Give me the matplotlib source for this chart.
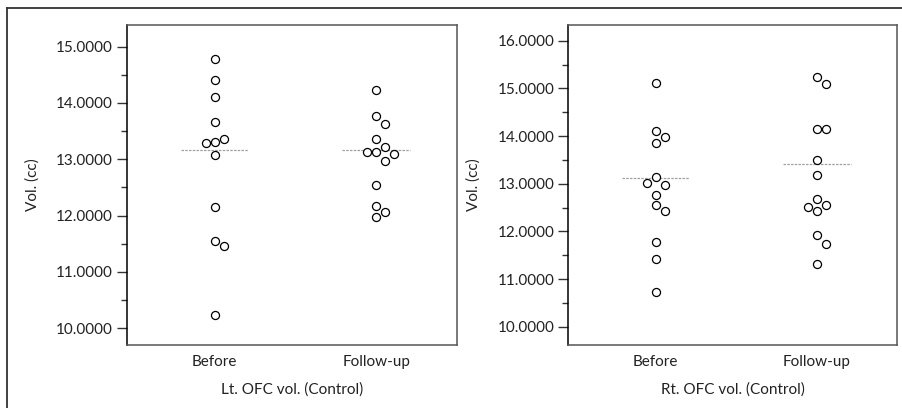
import numpy as np
import matplotlib
matplotlib.use("Agg")
import matplotlib.pyplot as plt
from matplotlib.lines import Line2D
from matplotlib.ticker import FormatStrFormatter, MultipleLocator

plt.rcParams['font.family'] = ['Lato', 'DejaVu Sans']

# ---- data ----
categories = ["Before", "Follow-up"]

lt_before = [14.78, 14.40, 14.11, 13.67, 13.31, 13.36, 13.28, 13.08, 12.16, 11.55, 11.46, 10.23]
lt_follow = [14.23, 13.76, 13.62, 13.36, 13.21, 13.12, 13.13, 13.09, 12.97, 12.54, 12.17, 12.07, 11.98]
lt_ref = [13.17, 13.17]

rt_before = [15.12, 14.11, 13.97, 13.86, 13.15, 12.97, 13.01, 12.77, 12.55, 12.43, 11.78, 11.43, 10.73]
rt_follow = [15.23, 15.09, 14.15, 14.15, 13.50, 13.18, 12.67, 12.56, 12.52, 12.43, 11.92, 11.74, 11.32]
rt_ref = [13.13, 13.41]

lt_yticks = [10, 11, 12, 13, 14, 15]
rt_yticks = [10, 11, 12, 13, 14, 15, 16]

panels = [
    dict(series=[lt_before, lt_follow], ref=lt_ref, ylim=(9.70, 15.385), yticks=lt_yticks,
         xlabel="Lt. OFC vol. (Control)"),
    dict(series=[rt_before, rt_follow], ref=rt_ref, ylim=(9.616, 16.33), yticks=rt_yticks,
         xlabel="Rt. OFC vol. (Control)"),
]

W, H = 903, 408
fig = plt.figure(figsize=(W / 100, H / 100), dpi=100)

axes_px = [(127, 25, 330, 320), (568.3, 25, 329, 320)]


def swarm(ax, x0, vals, step_px=9.0, min_d=9.0):
    """Simple greedy beeswarm in display space; returns data x positions."""
    disp = ax.transData.transform(np.column_stack([np.full(len(vals), x0), vals]))
    placed = []
    xs = []
    order = [0, 1, -1, 2, -2, 3, -3]
    for (px, py) in disp:
        for k in order:
            cx = px + k * step_px
            ok = all((cx - qx) ** 2 + (py - qy) ** 2 >= min_d ** 2 - 1e-6 for qx, qy in placed)
            if ok:
                placed.append((cx, py))
                break
        xs.append(cx)
    inv = ax.transData.inverted()
    return [inv.transform((x, y))[0] for x, (_, y) in zip(xs, disp)]


for p, (lx, ty, w, h) in zip(panels, axes_px):
    ax = fig.add_axes([lx / W, 1 - (ty + h) / H, w / W, h / H])
    ax.set_xlim(-0.541, 1.499)
    ax.set_ylim(*p['ylim'])
    for i, (vals, r) in enumerate(zip(p['series'], p['ref'])):
        ax.hlines(r, i - 0.21, i + 0.21, colors='#a0a0a0', linestyles=(0, (2, 1)), lw=0.9, zorder=1)
        xs = swarm(ax, i, vals)
        ax.plot(xs, vals, 'o', ms=5.8, mfc='white', mec='black', mew=0.9, ls='none', zorder=3)
    ax.set_xticks(range(len(categories)))
    ax.set_xticklabels(categories)
    ax.set_yticks(p['yticks'])
    ax.yaxis.set_minor_locator(MultipleLocator(0.5))
    ax.yaxis.set_major_formatter(FormatStrFormatter('%.4f'))
    ax.tick_params(axis='y', which='major', length=7, width=1, color='#333333', labelsize=11,
                   labelcolor='#222222', pad=3)
    ax.tick_params(axis='y', which='minor', length=4, width=1, color='#333333')
    ax.tick_params(axis='x', length=0, labelsize=11, labelcolor='#222222', pad=7)
    ax.set_ylabel("Vol. (cc)", fontsize=11, color='#222222', labelpad=12)
    ax.set_xlabel(p['xlabel'], fontsize=11, color='#222222', labelpad=10)
    for s in ['top', 'right', 'bottom']:
        ax.spines[s].set_color('#555555')
        ax.spines[s].set_linewidth(1.1)
    ax.spines['left'].set_color('black')
    ax.spines['left'].set_linewidth(1.1)

# outer frame (top and left edges visible)
fig.add_artist(Line2D([7 / W, 1.0], [1 - 8 / H, 1 - 8 / H], transform=fig.transFigure,
                      color='#333333', lw=1.3))
fig.add_artist(Line2D([7 / W, 7 / W], [1 - 8 / H, 0.0], transform=fig.transFigure,
                      color='#333333', lw=1.3))

fig.savefig("out.png", dpi=100)
